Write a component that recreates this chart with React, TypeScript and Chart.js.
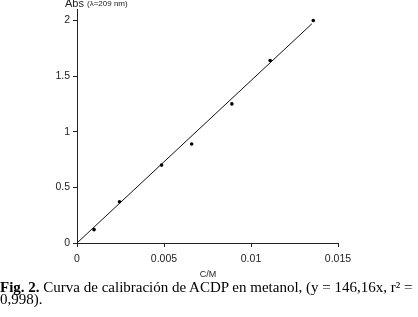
import React, { useEffect, useRef } from "react";
import { Chart, registerables } from "chart.js";

Chart.register(...registerables);

const concentrations = [0.00098, 0.00244, 0.00486, 0.00659, 0.0089, 0.0111, 0.01358];
const absorbances = [0.12, 0.37, 0.7, 0.89, 1.25, 1.64, 2.0];
const fitX = [0, 0.0135];
const fitY = [0, 1.97];
const xTickLabels = ["0", "0.005", "0.01", "0.015"];
const yTickLabels = ["0", "0.5", "1", "1.5", "2"];

const textPlugin = {
  id: "extraText",
  afterDraw(chart: any) {
    const ctx = chart.ctx;
    ctx.save();
    ctx.fillStyle = "#222";
    ctx.textBaseline = "middle";
    ctx.textAlign = "left";
    ctx.font = "11px 'Liberation Sans', Arial, sans-serif";
    ctx.fillText("Abs", 65, 4);
    ctx.font = "8px 'Liberation Sans', Arial, sans-serif";
    ctx.fillText("(λ=209 nm)", 87, 4);
    ctx.textAlign = "center";
    ctx.font = "9px 'Liberation Sans', Arial, sans-serif";
    ctx.fillText("C/M", 208, 275);
    ctx.restore();
  },
};

export default function App() {
  const ref = useRef<HTMLCanvasElement | null>(null);
  useEffect(() => {
    if (!ref.current) return;
    const font = { family: "'Liberation Sans', Arial, sans-serif", size: 10.5 };
    const chart = new Chart(ref.current, {
      type: "scatter",
      data: {
        datasets: [
          {
            label: "fit",
            data: fitX.map((x, i) => ({ x, y: fitY[i] })),
            showLine: true,
            borderColor: "#111",
            borderWidth: 1,
            pointRadius: 0,
          },
          {
            label: "data",
            data: concentrations.map((x, i) => ({ x, y: absorbances[i] })),
            backgroundColor: "#000",
            borderColor: "#000",
            pointRadius: 1.8,
            borderWidth: 0,
          },
        ],
      },
      options: {
        animation: false,
        responsive: false,
        layout: { padding: { left: 0, right: 80, top: 8, bottom: 0 } },
        plugins: { legend: { display: false }, tooltip: { enabled: false } },
        scales: {
          x: {
            type: "linear",
            min: 0,
            max: 0.015,
            afterFit: (s: any) => {
              s.height = 74;
            },
            border: { display: true, color: "#222", width: 1 },
            grid: { display: true, drawOnChartArea: false, drawTicks: true, tickLength: 4, color: "#222" },
            ticks: {
              stepSize: 0.005,
              includeBounds: false,
              padding: 6,
              color: "#222",
              font,
              maxRotation: 0,
              callback: (_v: any, i: number) => xTickLabels[i],
            },
          },
          y: {
            type: "linear",
            min: 0,
            max: 2.1,
            afterFit: (s: any) => {
              s.width = 77;
            },
            border: { display: true, color: "#222", width: 1 },
            grid: { display: true, drawOnChartArea: false, drawTicks: true, tickLength: 4, color: "#222" },
            ticks: {
              stepSize: 0.5,
              includeBounds: false,
              padding: 3,
              color: "#222",
              font,
              callback: (_v: any, i: number) => yTickLabels[i],
            },
          },
        },
      },
      plugins: [textPlugin],
    } as any);
    return () => chart.destroy();
  }, []);

  return (
    <div style={{ position: "fixed", left: 0, top: 0, width: 418, height: 317, background: "#fff", overflow: "hidden" }}>
      <canvas ref={ref} width={418} height={317} style={{ position: "absolute", left: 0, top: 0, width: 418, height: 317 }} />
      <div
        style={{
          position: "absolute",
          left: 0,
          top: 281,
          width: 440,
          fontFamily: "'Liberation Serif', 'Times New Roman', serif",
          fontSize: 15,
          lineHeight: "12px",
          color: "#000",
          whiteSpace: "nowrap",
        }}
      >
        <b>Fig. 2.</b> Curva de calibración de ACDP en metanol, (y = 146,16x, r² =
        <br />
        0,998).
      </div>
    </div>
  );
}
